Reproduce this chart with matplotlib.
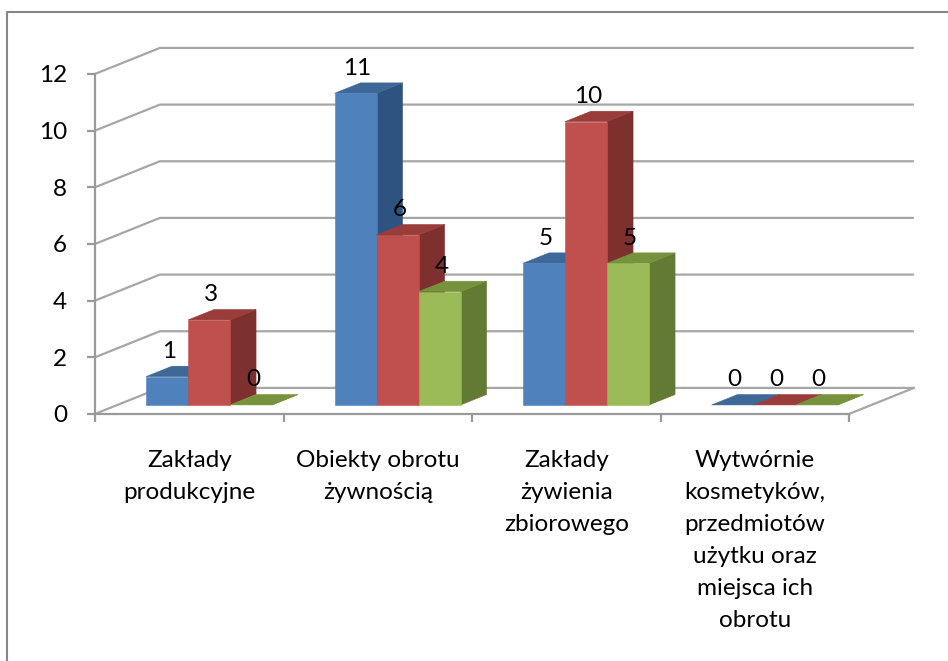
import numpy as np
import matplotlib.pyplot as plt
from matplotlib.patches import Polygon
from matplotlib.lines import Line2D

plt.rcParams['font.family'] = ['Lato', 'DejaVu Sans']

# data
categories = ["Zakłady\nprodukcyjne", "Obiekty obrotu\nżywnością",
              "Zakłady\nżywienia\nzbiorowego",
              "Wytwórnie\nkosmetyków,\nprzedmiotów\nużytku oraz\nmiejsca ich\nobrotu"]
series_a = [1, 11, 5, 0]
series_b = [3, 6, 10, 0]
series_c = [0, 4, 5, 0]
yticks = [0, 2, 4, 6, 8, 10, 12]

# face colours: front, side, top
colors = [("#4F81BD", "#2F5381", "#3D6897"),
          ("#C0504D", "#7E302E", "#9A3C3A"),
          ("#9BBB59", "#637A34", "#76923C")]

# oblique depth of the floor (category units, value units)
DX, DY = 0.344, 0.918
d_front, d_back = 0.346, 0.746
bar_w = 0.2228
group_start = 0.152
fs = 17.5

fig = plt.figure(figsize=(9.48, 6.61), dpi=100)
ax = fig.add_axes([0, 0, 1, 1])
ax.set_xlim(-0.504, 4.525)
ax.set_ylim(-8.72, 14.61)

grid_c = "#a6a6a6"
# back wall gridlines + side wall diagonals
for v in yticks:
    ax.plot([0, DX, 4 + DX], [v, v + DY, v + DY], color=grid_c, lw=1.6,
            solid_capstyle='butt', zorder=1)
ax.plot([4, 4 + DX], [0, DY], color=grid_c, lw=1.6, zorder=1)

# bars
all_series = [series_a, series_b, series_c]
for i in range(len(categories)):
    for j, vals in enumerate(all_series):
        v = vals[i]
        front, side, top = colors[j]
        x0 = i + group_start + j * bar_w
        fx0, fx1 = x0 + d_front * DX, x0 + bar_w + d_front * DX
        bx0, bx1 = x0 + d_back * DX, x0 + bar_w + d_back * DX
        fy, by = d_front * DY, d_back * DY
        z = 3 + i * 3 + j
        ax.add_patch(Polygon([(fx1, fy), (bx1, by), (bx1, by + v), (fx1, fy + v)],
                             closed=True, fc=side, ec=side, lw=0.4, zorder=z))
        ax.add_patch(Polygon([(fx0, fy + v), (fx1, fy + v), (bx1, by + v), (bx0, by + v)],
                             closed=True, fc=top, ec=top, lw=0.4, zorder=z))
        if v > 0:
            ax.add_patch(Polygon([(fx0, fy), (fx1, fy), (fx1, fy + v), (fx0, fy + v)],
                                 closed=True, fc=front, ec=front, lw=0.4, zorder=z))
        ax.annotate(str(v), ((fx0 + fx1) / 2 + 0.01, by + v), xytext=(0, 3),
                    textcoords='offset points', ha='center', va='bottom',
                    fontsize=fs, zorder=20)

# front axes
for side in ['top', 'right']:
    ax.spines[side].set_visible(False)
for side in ['left', 'bottom']:
    ax.spines[side].set_position(('data', 0))
    ax.spines[side].set_color("#9a9a9a")
    ax.spines[side].set_linewidth(1.6)
ax.spines['left'].set_bounds(0, 12)
ax.spines['bottom'].set_bounds(0, 4)
ax.set_yticks(yticks)
ax.set_yticklabels([str(t) for t in yticks], fontsize=fs)
ax.set_xticks(range(5))
ax.set_xticklabels([])
ax.tick_params(axis='both', color="#9a9a9a", width=1.6, length=6, direction='out')
ax.tick_params(axis='y', pad=14)

for i, lab in enumerate(categories):
    ax.text(i + 0.5, -1.28, lab, ha='center', va='top', fontsize=fs,
            linespacing=1.65)

# chart border (top and left visible)
fig.add_artist(Line2D([7 / 948, 7 / 948, 1], [0, 1 - 12 / 661, 1 - 12 / 661],
                      color="#868686", lw=1.5, transform=fig.transFigure))

fig.savefig("out.png", dpi=100)
